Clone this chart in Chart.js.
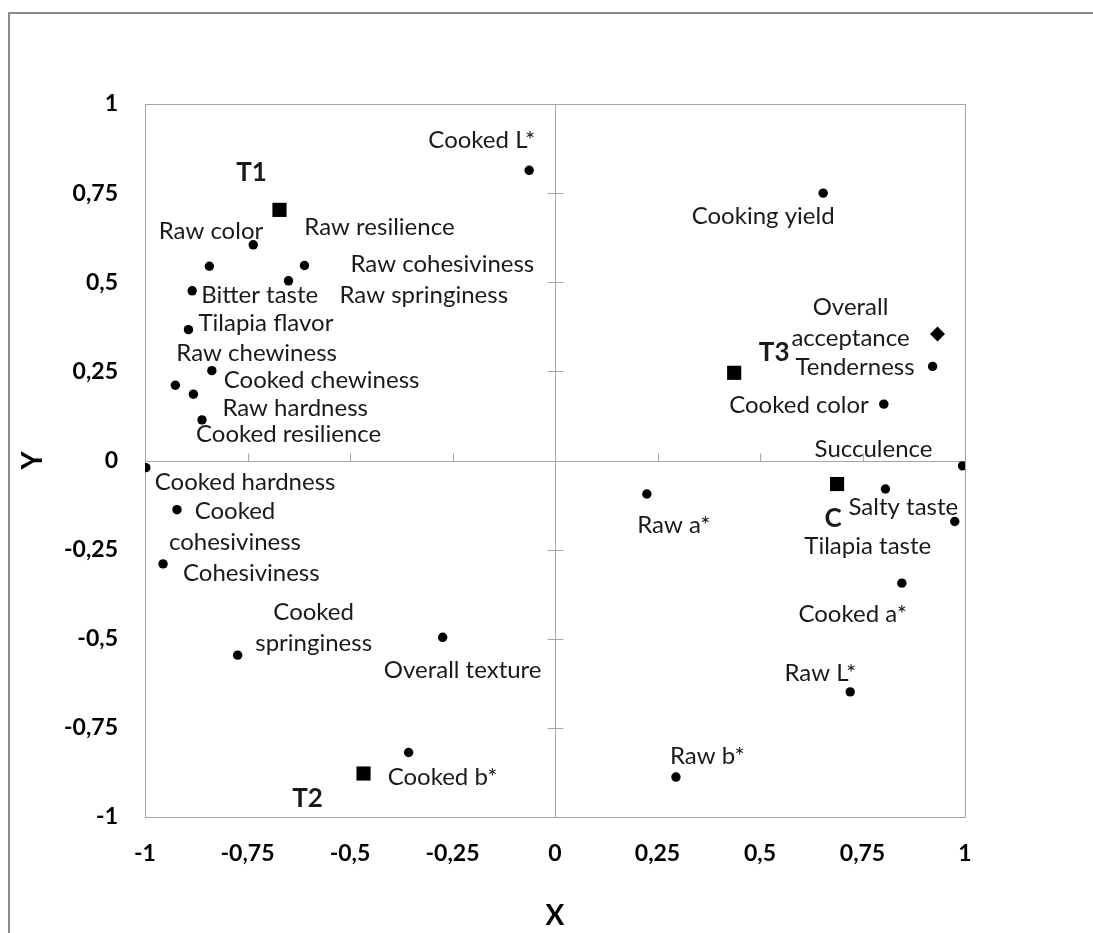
<!DOCTYPE html>
<html>
<head>
<meta charset="utf-8">
<script src="https://cdn.jsdelivr.net/npm/chart.js@4.4.0/dist/chart.umd.min.js"></script>
<style>
  html, body { margin: 0; padding: 0; background: #fff; }
  #wrap { width: 1093px; height: 933px; }
</style>
</head>
<body>
<div id="wrap"><canvas id="myChart"></canvas></div>
<script>
// sensory / physical attributes (circles)
const attrNames = [
  'Cooked L*', 'Raw color', 'Raw resilience', 'Raw cohesiviness', 'Raw springiness',
  'Bitter taste', 'Tilapia flavor', 'Cooked chewiness', 'Raw chewiness', 'Raw hardness',
  'Cooked resilience', 'Cooked hardness', 'Cooked cohesiviness', 'Cohesiviness',
  'Cooked springiness', 'Overall texture', 'Cooked b*', 'Cooking yield', 'Tenderness',
  'Cooked color', 'Succulence', 'Salty taste', 'Tilapia taste', 'Raw a*', 'Cooked a*',
  'Raw L*', 'Raw b*'
]
const attrX = [
  -0.063, -0.736, -0.843, -0.611, -0.650,
  -0.885, -0.894, -0.837, -0.926, -0.882,
  -0.861, -0.998, -0.922, -0.956,
  -0.774, -0.274, -0.357, 0.654, 0.921,
  0.802, 0.994, 0.806, 0.975, 0.224, 0.846,
  0.720, 0.295
]
const attrY = [
  0.814, 0.605, 0.545, 0.547, 0.504,
  0.476, 0.367, 0.252, 0.211, 0.186,
  0.114, -0.020, -0.138, -0.290,
  -0.546, -0.496, -0.819, 0.750, 0.264,
  0.158, -0.015, -0.080, -0.171, -0.094, -0.344,
  -0.649, -0.888
]

// treatments (squares)
const treatNames = ['T1', 'T2', 'T3', 'C']
const treatX = [-0.672, -0.467, 0.437, 0.688]
const treatY = [0.703, -0.878, 0.246, -0.066]

// overall acceptance (diamond)
const acceptNames = ['Overall acceptance']
const acceptX = [0.933]
const acceptY = [0.355]

const axisTicks = [-1, -0.75, -0.5, -0.25, 0, 0.25, 0.5, 0.75, 1]

// label placement: pixel offset from the marker, text alignment, optional line breaks
const labelLayout = {
  'Cooked L*': [6, -30, 'right'],
  'Raw color': [10, -14, 'right'],
  'Raw resilience': [95, -39, 'left'],
  'Raw cohesiviness': [46, -1, 'left'],
  'Raw springiness': [51, 14, 'left'],
  'Bitter taste': [9, 4, 'left'],
  'Tilapia flavor': [10, -6, 'left'],
  'Cooked chewiness': [12, 10, 'left'],
  'Raw chewiness': [1, -32, 'left'],
  'Raw hardness': [29, 14, 'left'],
  'Cooked resilience': [-6, 14, 'left'],
  'Cooked hardness': [9, 15, 'left'],
  'Cooked cohesiviness': [58, 2, 'center', ['Cooked', 'cohesiviness']],
  'Cohesiviness': [20, 9, 'left'],
  'Cooked springiness': [76, -43, 'center', ['Cooked', 'springiness']],
  'Overall texture': [20, 33, 'center'],
  'Cooked b*': [-21, 25, 'left'],
  'Cooking yield': [-60, 23, 'center'],
  'Tenderness': [-18, 1, 'right'],
  'Cooked color': [-15, 1, 'right'],
  'Succulence': [-89, -17, 'center'],
  'Salty taste': [-37, 18, 'left'],
  'Tilapia taste': [-87, 25, 'center'],
  'Raw a*': [27, 31, 'center'],
  'Cooked a*': [5, 31, 'right'],
  'Raw L*': [6, -19, 'right'],
  'Raw b*': [-6, -21, 'left'],
  'T1': [-28, -37, 'center'],
  'T2': [-56, 25, 'center'],
  'T3': [40, -20, 'center'],
  'C': [-4, 35, 'center'],
  'Overall acceptance': [-87, -27, 'center', ['Overall', 'acceptance']]
}

const toPoints = (xs, ys) => xs.map((v, i) => ({x: v, y: ys[i]}))
const comma = v => String(v).replace('.', ',')

const frame = {
  id: 'frame',
  beforeDatasetsDraw(chart) {
    const {ctx, chartArea: a, scales: {x, y}} = chart
    ctx.save()
    // outer border (top and left only)
    ctx.strokeStyle = '#8c8c8c'
    ctx.lineWidth = 2
    ctx.beginPath()
    ctx.moveTo(9, chart.height)
    ctx.lineTo(9, 13)
    ctx.lineTo(chart.width, 13)
    ctx.stroke()
    // plot frame
    ctx.strokeStyle = '#a6a6a6'
    ctx.lineWidth = 1
    ctx.strokeRect(Math.round(a.left) + 0.5, Math.round(a.top) + 0.5, Math.round(a.width), Math.round(a.height))
    // axes through the origin with tick marks
    const x0 = Math.round(x.getPixelForValue(0)) + 0.5
    const y0 = Math.round(y.getPixelForValue(0)) + 0.5
    ctx.beginPath()
    ctx.moveTo(a.left, y0)
    ctx.lineTo(a.right, y0)
    ctx.moveTo(x0, a.top)
    ctx.lineTo(x0, a.bottom)
    axisTicks.forEach(v => {
      const px = Math.round(x.getPixelForValue(v)) + 0.5
      ctx.moveTo(px, y0 - 8)
      ctx.lineTo(px, y0)
      const py = Math.round(y.getPixelForValue(v)) + 0.5
      ctx.moveTo(x0 - 8, py)
      ctx.lineTo(x0 + 8, py)
    })
    ctx.stroke()
    ctx.restore()
  }
}

const pointLabels = {
  id: 'pointLabels',
  afterDatasetsDraw(chart) {
    const {ctx} = chart
    ctx.save()
    ctx.fillStyle = '#1a1a1a'
    ctx.textBaseline = 'middle'
    chart.data.datasets.forEach((ds, di) => {
      const meta = chart.getDatasetMeta(di)
      ctx.font = ds.labelFont
      meta.data.forEach((el, i) => {
        const name = ds.names[i]
        const [dx, dy, align, lines] = labelLayout[name]
        ctx.textAlign = align
        const rows = lines || [name]
        rows.forEach((row, r) => ctx.fillText(row, el.x + dx, el.y + dy + r * 31))
      })
    })
    ctx.restore()
  }
}

const context = document.querySelector('#myChart')

const data = {
  datasets: [
    {
      names: attrNames,
      data: toPoints(attrX, attrY),
      pointStyle: 'circle',
      pointRadius: 4.7,
      backgroundColor: '#000',
      borderWidth: 0,
      labelFont: '24px Lato'
    },
    {
      names: treatNames,
      data: toPoints(treatX, treatY),
      pointStyle: 'rect',
      pointRadius: 10,
      backgroundColor: '#000',
      borderWidth: 0,
      labelFont: 'bold 26px Lato'
    },
    {
      names: acceptNames,
      data: toPoints(acceptX, acceptY),
      pointStyle: 'rectRot',
      pointRadius: 7.5,
      backgroundColor: '#000',
      borderWidth: 0,
      labelFont: '24px Lato'
    }
  ]
}

const tickFont = {family: 'Lato', size: 23, weight: 'bold'}
const titleFont = {family: 'Lato', size: 28, weight: 'bold'}

const config = {
  type: 'scatter',
  data: data,
  options: {
    responsive: true,
    maintainAspectRatio: false,
    animation: false,
    layout: {padding: {left: 0, top: 104, right: 128, bottom: 0}},
    plugins: {legend: {display: false}, tooltip: {enabled: false}},
    scales: {
      x: {
        min: -1, max: 1,
        afterBuildTicks: s => { s.ticks = axisTicks.map(v => ({value: v})) },
        afterFit: s => { s.height = 116 },
        grid: {display: false, drawTicks: false},
        border: {display: false},
        ticks: {font: tickFont, color: '#000', padding: 23, callback: comma},
        title: {display: true, text: 'X', font: titleFont, color: '#000', padding: {top: 0, bottom: 0}}
      },
      y: {
        min: -1, max: 1,
        afterBuildTicks: s => { s.ticks = axisTicks.map(v => ({value: v})) },
        afterFit: s => { s.width = 145 },
        grid: {display: false, drawTicks: false},
        border: {display: false},
        ticks: {font: tickFont, color: '#000', padding: 27, callback: comma},
        title: {display: true, text: 'Y', font: titleFont, color: '#000', padding: {top: 16, bottom: 0}}
      }
    }
  },
  plugins: [frame, pointLabels]
}

new Chart(context, config)
</script>
</body>
</html>
